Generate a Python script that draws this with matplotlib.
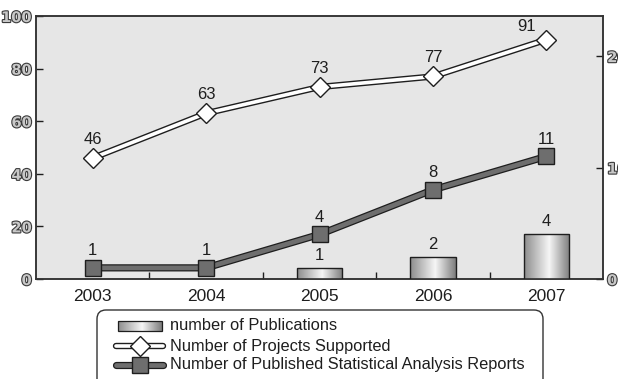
import numpy as np
import matplotlib
matplotlib.use("Agg")
import matplotlib.pyplot as plt
from matplotlib.colors import LinearSegmentedColormap
from matplotlib.patches import FancyBboxPatch, Rectangle
from matplotlib.lines import Line2D
import matplotlib.patheffects as pe

# ---- data ----
years = ["2003", "2004", "2005", "2006", "2007"]
publications = [0, 0, 1, 2, 4]
projects_supported = [46, 63, 73, 77, 91]
analysis_reports = [1, 1, 4, 8, 11]

left_ticks = [0, 20, 40, 60, 80, 100]
right_ticks = [0, 10, 20]

legend_labels = ["number of Publications",
                 "Number of Projects Supported",
                 "Number of Published Statistical Analysis Reports"]

# ---- style ----
FONT = "Liberation Sans"
BG = "#e6e6e6"
DARK = "#1e1e1e"
REPORT_GREY = "#6e6e6e"
LABEL_FS = 12
bar_cmap = LinearSegmentedColormap.from_list(
    "cyl", [(0.0, "#8c8c8c"), (0.55, "#f6f6f6"), (1.0, "#7c7c7c")])
tick_fx = [pe.withStroke(linewidth=1.6, foreground="#3a3a3a")]

W, H = 618, 379
fig = plt.figure(figsize=(W / 100, H / 100), dpi=100)
fig.patch.set_facecolor("white")

x0, x1, ytop, ybot = 36, 603, 16, 279
ax = fig.add_axes([x0 / W, 1 - ybot / H, (x1 - x0) / W, (ybot - ytop) / H])
ax.set_facecolor(BG)
ax2 = ax.twinx()
ax2.patch.set_visible(False)

x = np.arange(len(years))
bar_w = 0.40

# gradient "cylinder" bars on the right axis
grad = np.linspace(0, 1, 256).reshape(1, -1)
for xi, v in zip(x, publications):
    if v <= 0:
        continue
    rect = Rectangle((xi - bar_w / 2, 0), bar_w, v, facecolor="none",
                     edgecolor=DARK, linewidth=1.0, zorder=3)
    ax2.add_patch(rect)
    im = ax2.imshow(grad, cmap=bar_cmap, aspect="auto", zorder=2,
                    extent=(xi - bar_w / 2, xi + bar_w / 2, 0, v))
    im.set_clip_path(rect)
    ax2.text(xi, v + 0.45, str(v), ha="center", va="bottom",
             fontsize=LABEL_FS, family=FONT, color=DARK, zorder=6)

# projects supported: white line with dark outline, left axis
ax.plot(x, projects_supported, color=DARK, lw=4.6, solid_capstyle="butt", zorder=3)
ax.plot(x, projects_supported, color="white", lw=2.6, solid_capstyle="butt", zorder=4)
ax.plot(x, projects_supported, ls="none", marker="D", ms=10.5,
        mfc="white", mec=DARK, mew=1.0, zorder=5)
for i, (xi, v) in enumerate(zip(x, projects_supported)):
    if i == len(x) - 1:
        ax.annotate(str(v), (xi, v), xytext=(-14, 4), textcoords="offset points",
                    ha="center", va="bottom", fontsize=LABEL_FS, family=FONT, color=DARK)
    else:
        ax.annotate(str(v), (xi, v), xytext=(0, 8), textcoords="offset points",
                    ha="center", va="bottom", fontsize=LABEL_FS, family=FONT, color=DARK)

# statistical analysis reports: grey band with dark outline, right axis
ax2.plot(x, analysis_reports, color=DARK, lw=5.2, solid_capstyle="butt", zorder=4)
ax2.plot(x, analysis_reports, color=REPORT_GREY, lw=3.4, solid_capstyle="butt", zorder=4)
ax2.plot(x, analysis_reports, ls="none", marker="s", ms=11,
         mfc=REPORT_GREY, mec=DARK, mew=1.0, zorder=5)
for xi, v in zip(x, analysis_reports):
    ax2.annotate(str(v), (xi, v), xytext=(0, 7), textcoords="offset points",
                 ha="center", va="bottom", fontsize=LABEL_FS, family=FONT, color=DARK)

# axes limits and ticks
ax.set_xlim(-0.5, len(years) - 0.5)
ax.set_ylim(0, 100)
ax2.set_ylim(0, 23.6)

ax.set_xticks(x)
ax.set_xticklabels(years, family=FONT, fontsize=12.5, color=DARK)
ax.set_xticks(np.arange(0.5, len(years) - 0.5), minor=True)
ax.tick_params(axis="x", which="major", length=0, pad=7)
ax.tick_params(axis="x", which="minor", direction="in", length=5, width=1, color=DARK)

ax.set_yticks(left_ticks)
ax.tick_params(axis="y", direction="in", length=5, width=1, color=DARK, pad=3)
for lbl in ax.get_yticklabels():
    lbl.set_fontweight("bold")
    lbl.set_fontsize(10.5)
    lbl.set_color("#c8c8c8")
    lbl.set_path_effects(tick_fx)

ax2.set_yticks(right_ticks)
ax2.tick_params(axis="y", direction="in", length=5, width=1, color=DARK, pad=3)
for lbl in ax2.get_yticklabels():
    lbl.set_fontweight("bold")
    lbl.set_fontsize(10.5)
    lbl.set_color("#c8c8c8")
    lbl.set_path_effects(tick_fx)

for a in (ax, ax2):
    for s in a.spines.values():
        s.set_color("#333333")
        s.set_linewidth(1.1)

# ---- legend, drawn in pixel coordinates of the figure ----
lax = fig.add_axes([0, 0, 1, 1], zorder=10)
lax.set_xlim(0, W)
lax.set_ylim(H, 0)
lax.axis("off")
lax.patch.set_visible(False)

box = FancyBboxPatch((97, 310), 446, 90, boxstyle="round,pad=0,rounding_size=9",
                     facecolor="white", edgecolor="#333333", linewidth=1.0,
                     clip_on=False)
lax.add_patch(box)

rows = [326, 346, 365]
hx0, hx1 = 116, 163
# bar handle
r = Rectangle((118, rows[0] - 5), 44, 10, facecolor="none", edgecolor=DARK, lw=0.9, zorder=3)
lax.add_patch(r)
im = lax.imshow(grad, cmap=bar_cmap, aspect="auto", zorder=2,
                extent=(118, 162, rows[0] + 5, rows[0] - 5))
im.set_clip_path(r)
lax.set_xlim(0, W)
lax.set_ylim(H, 0)
# projects handle
lax.add_line(Line2D([hx0, hx1], [rows[1], rows[1]], color=DARK, lw=4.6, solid_capstyle="round"))
lax.add_line(Line2D([hx0, hx1], [rows[1], rows[1]], color="white", lw=2.6, solid_capstyle="round"))
lax.add_line(Line2D([139.5], [rows[1]], ls="none", marker="D", ms=10.5, mfc="white", mec=DARK, mew=1.0))
# reports handle
lax.add_line(Line2D([hx0, hx1], [rows[2], rows[2]], color=DARK, lw=5.2, solid_capstyle="round"))
lax.add_line(Line2D([hx0, hx1], [rows[2], rows[2]], color=REPORT_GREY, lw=3.4, solid_capstyle="round"))
lax.add_line(Line2D([139.5], [rows[2]], ls="none", marker="s", ms=11, mfc=REPORT_GREY, mec=DARK, mew=1.0))

for yv, txt in zip(rows, legend_labels):
    lax.text(170, yv, txt, ha="left", va="center", fontsize=11.8, family=FONT, color=DARK)

fig.savefig("out.png", dpi=100, facecolor="white")
